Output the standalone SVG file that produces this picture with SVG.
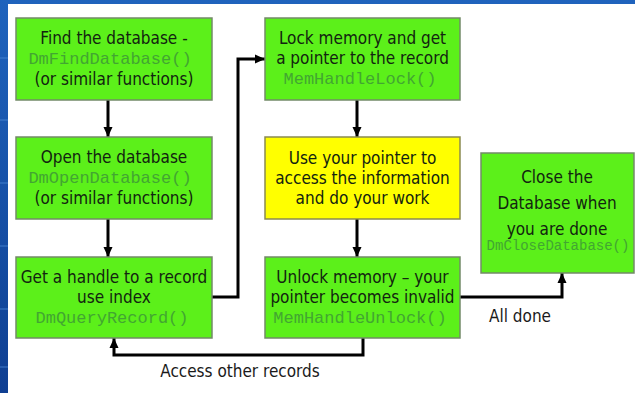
<svg xmlns="http://www.w3.org/2000/svg" width="635" height="393" viewBox="0 0 635 393">
  <defs>
    <linearGradient id="bg" x1="0" y1="0" x2="0" y2="1">
      <stop offset="0" stop-color="#1f63bd"/>
      <stop offset="1" stop-color="#0f3f92"/>
    </linearGradient>
    <marker id="arr" markerUnits="userSpaceOnUse" markerWidth="10" markerHeight="10" viewBox="0 0 10 10" refX="10" refY="5" orient="auto">
      <path d="M0,0.5 L10,5 L0,9.5 Z" fill="#000"/>
    </marker>
  </defs>
  <style>
    .g { fill: #5cf01a; stroke: #738a68; stroke-width: 1.5; }
    .y { fill: #ffff00; stroke: #8a8a50; stroke-width: 1.5; }
    .t { font-family: 'DejaVu Sans Condensed', 'DejaVu Sans', 'Liberation Sans', sans-serif; font-stretch: condensed; font-size: 17px; fill: #122410; text-anchor: middle; }
    .m { font-family: 'Liberation Mono', 'Courier New', monospace; font-size: 17px; fill: #42a632; text-anchor: middle; }
    .lbl { font-family: 'DejaVu Sans Condensed', 'DejaVu Sans', 'Liberation Sans', sans-serif; font-stretch: condensed; font-size: 17px; fill: #1a1a1a; text-anchor: middle; }
    .c { fill: none; stroke: #000; stroke-width: 3; marker-end: url(#arr); }
  </style>
  <rect width="635" height="393" fill="url(#bg)"/>
  <g stroke="#4d8ad6" stroke-width="1" opacity="0.8">
    <line x1="0" y1="58" x2="8" y2="58"/>
    <line x1="0" y1="120" x2="8" y2="120"/>
    <line x1="0" y1="183" x2="8" y2="183"/>
    <line x1="0" y1="246" x2="8" y2="246"/>
    <line x1="0" y1="309" x2="8" y2="309"/>
    <line x1="0" y1="367" x2="8" y2="367"/>
  </g>
  <rect x="8" y="4" width="627" height="389" fill="#ffffff"/>

  <g id="connectors">
    <path class="c" d="M108,100 V137"/>
    <path class="c" d="M108,219 V257"/>
    <path class="c" d="M357,100 V137"/>
    <path class="c" d="M357,219 V257"/>
    <path class="c" d="M212,297 H238 V59 H265"/>
    <path class="c" d="M460,297 H562 V273"/>
    <path class="c" d="M363,338 V355 H114 V338"/>
  </g>

  <g id="find">
    <rect class="g" x="16" y="18" width="196" height="82"/>
    <text class="t" x="114" y="44">Find the database -</text>
    <text class="m" x="110" y="64">DmFindDatabase()</text>
    <text class="t" x="114" y="85">(or similar functions)</text>
  </g>
  <g id="open">
    <rect class="g" x="16" y="137" width="196" height="82"/>
    <text class="t" x="114" y="163">Open the database</text>
    <text class="m" x="110" y="183">DmOpenDatabase()</text>
    <text class="t" x="114" y="204">(or similar functions)</text>
  </g>
  <g id="gethandle">
    <rect class="g" x="16" y="257" width="196" height="81"/>
    <text class="t" x="114" y="283">Get a handle to a record</text>
    <text class="t" x="114" y="303">use index</text>
    <text class="m" x="112" y="323">DmQueryRecord()</text>
  </g>
  <g id="lock">
    <rect class="g" x="265" y="18" width="195" height="82"/>
    <text class="t" x="362.5" y="44">Lock memory and get</text>
    <text class="t" x="362.5" y="64">a pointer to the record</text>
    <text class="m" x="360" y="84">MemHandleLock()</text>
  </g>
  <g id="use">
    <rect class="y" x="265" y="137" width="195" height="82"/>
    <text class="t" x="362.5" y="164">Use your pointer to</text>
    <text class="t" x="362.5" y="184">access the information</text>
    <text class="t" x="362.5" y="204">and do your work</text>
  </g>
  <g id="unlock">
    <rect class="g" x="265" y="257" width="195" height="81"/>
    <text class="t" x="362.5" y="283">Unlock memory – your</text>
    <text class="t" x="362.5" y="303">pointer becomes invalid</text>
    <text class="m" x="360" y="323">MemHandleUnlock()</text>
  </g>
  <g id="close">
    <rect class="g" x="481" y="153" width="153" height="120"/>
    <text class="t" x="557" y="183">Close the</text>
    <text class="t" x="557" y="209">Database when</text>
    <text class="t" x="557" y="235">you are done</text>
    <text class="m" x="558" y="250" style="font-size:14px">DmCloseDatabase()</text>
  </g>

  <text class="lbl" x="520" y="322">All done</text>
  <text class="lbl" x="240" y="377">Access other records</text>
</svg>
